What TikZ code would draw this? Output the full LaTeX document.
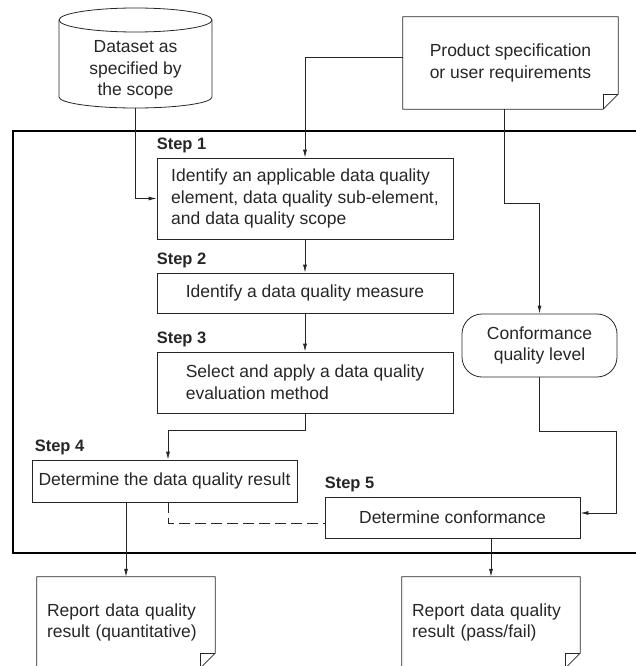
\documentclass[tikz,border=0pt]{standalone}
\usepackage{fontspec}
\setmainfont{Liberation Sans}
\usetikzlibrary{arrows.meta,positioning}

% folded page outline round a named node
\newcommand\dogear[1]{%
  \draw[ln] (#1.north west) -- (#1.north east) -- ([yshift=15pt]#1.south east)
    -- ([xshift=-15pt]#1.south east) -- (#1.south west) -- cycle;
  \draw[ln] ([yshift=15pt]#1.south east) -- ([xshift=-15pt,yshift=15pt]#1.south east)
    -- ([xshift=-15pt]#1.south east);}

\begin{document}
\begin{tikzpicture}[x=1pt,y=-1pt,
  every node/.style={font=\fontsize{17.5}{21.7}\selectfont,text=black!85},
  ln/.style={draw=black!85,line width=0.8pt},
  stepbox/.style={ln,align=left,inner sep=0pt,minimum width=296pt},
  docbox/.style={align=left,inner sep=0pt},
  lbl/.style={font=\fontsize{16.5}{18}\selectfont\bfseries,inner sep=0pt},
  ar/.style={ln,-{Latex[length=8pt,width=4pt]}},
  frame/.style={draw=black,line width=1.8pt}]
\useasboundingbox (0,0) rectangle (636,666);
\draw[frame] (13,131) rectangle (660,553);
% data store
\draw[ln] (59,20) -- (59,97) arc[start angle=180,end angle=360,x radius=76.5pt,y radius=11pt] -- (212,20);
\draw[ln] (135.5,20) ellipse[x radius=76.5pt,y radius=12pt];
\node[align=center] (data) at (135.5,70) {Dataset as\\specified by\\the scope};
\coordinate (datab) at (135.5,108);
\node[docbox,minimum width=215pt,minimum height=92pt] (prod) at (510.5,63) {Product specification\\or user requirements};
\dogear{prod}
% steps
\node[stepbox,minimum height=81pt] (s1) at (305,198.5) {Identify an applicable data quality\\element, data quality sub-element,\\and data quality scope};
\node[stepbox,minimum height=40pt] (s2) at (305,293) {Identify a data quality measure};
\node[stepbox,minimum height=61pt] (s3) at (305,382.5) {Select and apply a data quality\\evaluation method};
\node[stepbox,minimum width=265pt,minimum height=42pt] (s4) at (164.5,481) {Determine the data quality result};
\node[stepbox,minimum width=255pt,minimum height=41pt] (s5) at (452.5,517.5) {Determine conformance};
\node[ln,rounded corners=20pt,align=center,inner sep=0pt,minimum width=155pt,minimum height=63pt] (conf) at (539.5,345.5) {Conformance\\quality level};
\node[lbl,above right=4.5pt and 0pt of s1.north west] (l1) {Step 1};
\node[lbl,above right=4.5pt and 0pt of s2.north west] (l2) {Step 2};
\node[lbl,above right=4.5pt and 0pt of s3.north west] (l3) {Step 3};
\node[lbl,above right=4.5pt and 3pt of s4.north west] (l4) {Step 4};
\node[lbl,above right=4.5pt and 0pt of s5.north west] (l5) {Step 5};
% reports
\node[docbox,text width=158pt,inner xsep=10pt,minimum height=91pt] (rep1) at (126,622.5) {Report data quality\\result (quantitative)};
\node[docbox,text width=158pt,inner xsep=10pt,minimum height=91pt] (rep2) at (491,622.5) {Report data quality\\result (pass/fail)};
\dogear{rep1}
\dogear{rep2}
% flow
\draw[ar] (datab) |- (s1.west);
\draw[ar] ([yshift=6pt]prod.west) -| (s1.north);
\draw[ar] ([xshift=-6.5pt]prod.south) -- ++(0,94) -| (conf.north);
\draw[ar] (s1) -- (s2);
\draw[ar] (s2) -- (s3);
\draw[ar] (s3.south) -- ++(0,17) -| ([xshift=3.5pt]s4.north);
\draw[ar] (conf.south) -- ++(0,54) -- ++(76.5,0) |- ([yshift=4.5pt]s5.east);
\draw[ar] (s4.south -| rep1.north) -- (rep1.north);
\draw[ar] (s5.south -| rep2.north) -- (rep2.north);
\draw[ln,dash pattern=on 11pt off 5pt] ([xshift=3.5pt]s4.south) |- ([yshift=-5.5pt]s5.west);
\end{tikzpicture}
\end{document}
